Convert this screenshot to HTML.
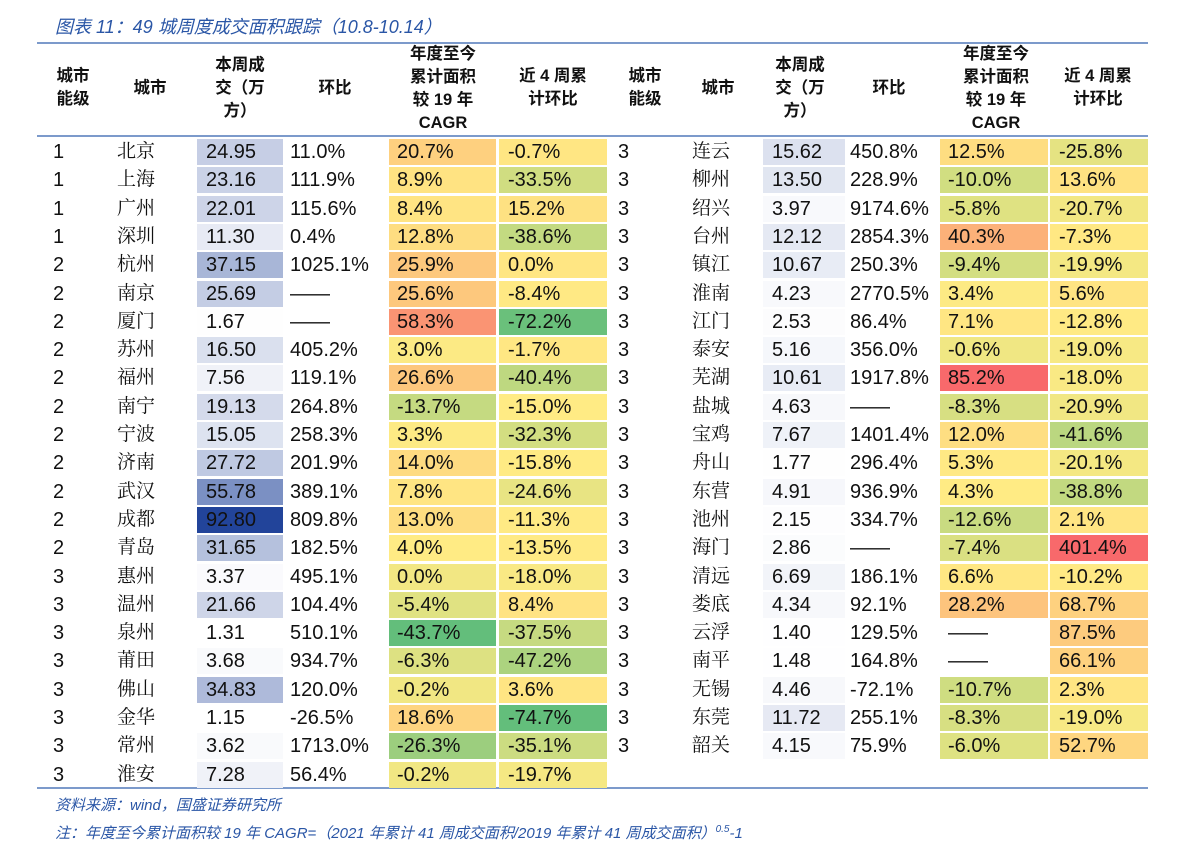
<!DOCTYPE html>
<html><head><meta charset="utf-8">
<style>
body{margin:0;background:#fff;width:1191px;height:833px;overflow:hidden;position:relative;font-family:"Liberation Sans","Noto Sans CJK SC",sans-serif;}
.abs{position:absolute;white-space:nowrap;}
#title{left:55px;top:13px;font-size:18px;font-style:italic;color:#2a56a6;font-family:"Liberation Sans","Noto Sans CJK SC",sans-serif;}
.hline{position:absolute;left:37px;width:1111px;background:#7c9acb;}
.hd{position:absolute;font-weight:bold;font-size:16.5px;line-height:23px;text-align:center;color:#111;font-family:"Liberation Sans","Noto Sans CJK SC",sans-serif;}
.cell{position:absolute;height:26px;}
.t{position:absolute;font-size:20px;line-height:28px;color:#111;}
.cn{font-family:"Liberation Serif","Noto Serif CJK SC",serif;font-size:19px;}
#src{left:55px;top:794px;font-size:15px;font-style:italic;color:#2a56a6;}
#note{left:55px;top:822px;font-size:15px;font-style:italic;color:#2a56a6;}
</style></head>
<body>
<div id="title" class="abs">图表 11：49 城周度成交面积跟踪（10.8-10.14）</div>
<div class="hline" style="top:42px;height:2px"></div>
<div class="hline" style="top:135px;height:2px"></div>
<div class="hline" style="top:787px;height:2px"></div>
<div id="hdr"></div>
<div id="body"></div>
<div id="src" class="abs">资料来源：wind，国盛证券研究所</div>
<div id="note" class="abs">注：年度至今累计面积较 19 年 CAGR=（2021 年累计 41 周成交面积/2019 年累计 41 周成交面积）<sup style="font-size:10px">0.5</sup>-1</div>
<script>
const levelsL=[1,1,1,1,2,2,2,2,2,2,2,2,2,2,2,3,3,3,3,3,3,3,3];
const citiesL=["北京","上海","广州","深圳","杭州","南京","厦门","苏州","福州","南宁","宁波","济南","武汉","成都","青岛","惠州","温州","泉州","莆田","佛山","金华","常州","淮安"];
const weeklyL=[24.95,23.16,22.01,11.30,37.15,25.69,1.67,16.50,7.56,19.13,15.05,27.72,55.78,92.80,31.65,3.37,21.66,1.31,3.68,34.83,1.15,3.62,7.28];
const wowL=["11.0%","111.9%","115.6%","0.4%","1025.1%","——","——","405.2%","119.1%","264.8%","258.3%","201.9%","389.1%","809.8%","182.5%","495.1%","104.4%","510.1%","934.7%","120.0%","-26.5%","1713.0%","56.4%"];
const cagrL=[20.7,8.9,8.4,12.8,25.9,25.6,58.3,3.0,26.6,-13.7,3.3,14.0,7.8,13.0,4.0,0.0,-5.4,-43.7,-6.3,-0.2,18.6,-26.3,-0.2];
const fourL=[-0.7,-33.5,15.2,-38.6,0.0,-8.4,-72.2,-1.7,-40.4,-15.0,-32.3,-15.8,-24.6,-11.3,-13.5,-18.0,8.4,-37.5,-47.2,3.6,-74.7,-35.1,-19.7];
const levelsR=[3,3,3,3,3,3,3,3,3,3,3,3,3,3,3,3,3,3,3,3,3,3];
const citiesR=["连云","柳州","绍兴","台州","镇江","淮南","江门","泰安","芜湖","盐城","宝鸡","舟山","东营","池州","海门","清远","娄底","云浮","南平","无锡","东莞","韶关"];
const weeklyR=[15.62,13.50,3.97,12.12,10.67,4.23,2.53,5.16,10.61,4.63,7.67,1.77,4.91,2.15,2.86,6.69,4.34,1.40,1.48,4.46,11.72,4.15];
const wowR=["450.8%","228.9%","9174.6%","2854.3%","250.3%","2770.5%","86.4%","356.0%","1917.8%","——","1401.4%","296.4%","936.9%","334.7%","——","186.1%","92.1%","129.5%","164.8%","-72.1%","255.1%","75.9%"];
const cagrR=[12.5,-10.0,-5.8,40.3,-9.4,3.4,7.1,-0.6,85.2,-8.3,12.0,5.3,4.3,-12.6,-7.4,6.6,28.2,null,null,-10.7,-8.3,-6.0];
const fourR=[-25.8,13.6,-20.7,-7.3,-19.9,5.6,-12.8,-19.0,-18.0,-20.9,-41.6,-20.1,-38.8,2.1,401.4,-10.2,68.7,87.5,66.1,2.3,-19.0,52.7];

function mix(a,b,t){return a.map((v,i)=>Math.round(v+(b[i]-v)*t));}
function rgb(c){return `rgb(${c[0]},${c[1]},${c[2]})`;}
const allW=weeklyL.concat(weeklyR);
const wMin=Math.min(...allW),wMax=Math.max(...allW);
function blue(v){return rgb(mix([255,255,255],[34,68,154],(v-wMin)/(wMax-wMin)));}
function median(a){const s=a.slice().sort((x,y)=>x-y);const n=s.length;return n%2?s[(n-1)/2]:(s[n/2-1]+s[n/2])/2;}
function scale3(arr){
  const v=arr.filter(x=>x!==null);const mn=Math.min(...v),mx=Math.max(...v),md=median(v);
  const G=[99,190,123],Y=[255,235,132],R=[248,105,107];
  return x=>{if(x===null)return null;return x<=md?rgb(mix(G,Y,(x-mn)/(md-mn||1))):rgb(mix(Y,R,(x-md)/(mx-md||1)));};
}
const cS=scale3(cagrL.concat(cagrR));
const fS=scale3(fourL.concat(fourR));
function pct(v){return v===null?"——":v.toFixed(1)+"%";}

const hdr=document.getElementById('hdr');
function H(cx,lines,top,name){
  const d=document.createElement('div');d.className='hd';
  d.style.left=(cx-60)+'px';d.style.width='120px';d.style.top=top+'px';
  d.innerHTML=lines.join('<br>');
  
  
  hdr.appendChild(d);
}
[[0,[73,150,240,335,443,553]],[1,[645,718,800,889,996,1098]]].forEach(([s,xs])=>{
  const p=s?'right-':'left-';
  H(xs[0],["城市","能级"],65,p+'header-level');
  H(xs[1],["城市"],77,p+'header-city');
  H(xs[2],["本周成","交（万","方）"],54,p+'header-weekly');
  H(xs[3],["环比"],77,p+'header-wow');
  H(xs[4],["年度至今","累计面积","较 19 年","CAGR"],43,p+'header-cagr');
  H(xs[5],["近 4 周累","计环比"],65,p+'header-4wk');
});

const body=document.getElementById('body');
const rowTop=138,rowH=28.3;
function cell(x,w,y,bg,name){
  const d=document.createElement('div');d.className='cell';
  d.style.left=x+'px';d.style.width=w+'px';d.style.top=(y+1)+'px';d.style.background=bg;
  
  
  body.appendChild(d);
}
function txt(x,y,s,name,cls){
  const d=document.createElement('div');d.className='t'+(cls?' '+cls:'');
  d.style.left=x+'px';d.style.top=y+'px';d.textContent=s;
  
  
  body.appendChild(d);
}
function side(L,C,W,WO,CA,F,X,p){
  for(let i=0;i<L.length;i++){
    const y=rowTop+i*rowH;
    cell(X.w,X.ww,y,blue(W[i]),p+'weekly-cell');
    const cc=cS(CA[i]);if(cc)cell(X.c,X.cw,y,cc,p+'cagr-cell');
    cell(X.f,X.fw,y,fS(F[i]),p+'4wk-cell');
    txt(X.l,y,String(L[i]),p+'level');
    txt(X.n,y,C[i],p+'city','cn');
    txt(X.w+9,y,W[i].toFixed(2),p+'weekly-value');
    txt(X.o,y,WO[i],p+'wow-value');
    txt(X.c+8,y,pct(CA[i]),p+'cagr-value');
    txt(X.f+9,y,pct(F[i]),p+'4wk-value');
  }
}
side(levelsL,citiesL,weeklyL,wowL,cagrL,fourL,{l:53,n:117,w:197,ww:86,o:290,c:389,cw:107,f:499,fw:108},'left-');
side(levelsR,citiesR,weeklyR,wowR,cagrR,fourR,{l:618,n:692,w:763,ww:82,o:850,c:940,cw:108,f:1050,fw:98},'right-');
</script>
</body></html>
